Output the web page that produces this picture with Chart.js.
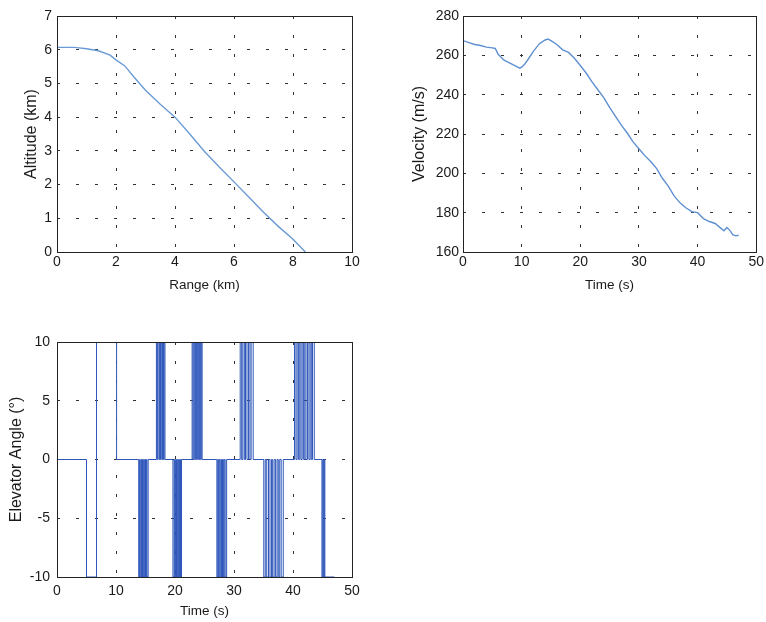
<!DOCTYPE html>
<html>
<head>
<meta charset="utf-8">
<script src="https://cdn.jsdelivr.net/npm/chart.js@4/dist/chart.umd.min.js"></script>
<style>
  body { margin: 0; background: #fff; }
  canvas { position: absolute; }
</style>
</head>
<body>
<canvas id="altChart" width="380" height="300" style="left:0;top:0"></canvas>
<canvas id="velChart" width="386" height="300" style="left:380px;top:0"></canvas>
<canvas id="elevChart" width="380" height="312" style="left:0;top:310px"></canvas>
<script>
// altitude vs range (km)
const rangeKm = [0, 0.6, 1.0, 1.4, 1.8, 2.0, 2.3, 2.6, 3.0, 3.5, 4.0, 4.5, 5.0, 5.5, 6.0, 6.5, 7.0, 7.5, 8.0, 8.42];
const altitudeKm = [6.07, 6.07, 6.03, 5.97, 5.84, 5.7, 5.52, 5.2, 4.8, 4.38, 4.0, 3.5, 2.98, 2.52, 2.08, 1.63, 1.18, 0.76, 0.38, 0.0];

// velocity vs time
const velTime = [0, 1, 2, 3, 4, 5, 5.5, 6, 7, 8, 9, 9.7, 10, 10.5, 11, 12, 13, 14, 14.5, 15, 16, 17, 18, 19, 20,
  21, 22, 23, 24, 25, 26, 27, 28, 29, 30, 31, 32, 33, 34, 35, 36, 37, 38, 39, 40, 41, 42, 43, 44, 44.5, 45, 45.5, 46, 46.5, 47];
const velocity = [267.5, 266.5, 265.5, 265, 264.2, 263.8, 263.5, 260.5, 257.5, 256, 254.5, 253.5, 254, 255.5, 257.5, 262, 265.8, 267.8, 268.3, 267.5, 265.5, 262.8, 261.5, 258.5, 254.8,
  251, 246.5, 242.5, 238.5, 233.5, 229, 224.5, 220.5, 216, 212.5, 209, 206, 202.5, 197.5, 193.5, 188.5, 185, 182.5, 180.5, 180, 177, 175.5, 174.5, 172, 170.8, 172.5, 171, 168.8, 168.2, 168.5];

// elevator command: switch time (s) and the new angle (deg) from that time on
const elevTime = [0, 5.0, 6.15, 6.7, 9.8, 10.1,
  13.85, 14.0, 14.1, 14.25, 14.35, 14.5, 14.55, 14.7, 14.8, 14.95, 15.0, 15.15, 15.25, 15.45,
  16.85, 17.0, 17.1, 17.3, 17.4, 17.55, 17.65, 17.8, 17.9, 18.05, 18.15, 18.3,
  19.65, 19.85, 19.95, 20.1, 20.25, 20.4, 20.55, 20.65, 20.75, 20.9, 20.95, 21.1,
  22.9, 23.05, 23.2, 23.35, 23.45, 23.6, 23.7, 23.85, 23.95, 24.1, 24.2, 24.35, 24.45, 24.6,
  27.1, 27.25, 27.35, 27.5, 27.65, 27.8, 27.9, 28.05, 28.2, 28.35, 28.5, 28.75,
  31.05, 31.3, 31.5, 31.75, 31.95, 32.2, 32.45, 32.7, 32.9, 33.25,
  35.05, 35.3, 35.55, 35.85, 36.1, 36.35, 36.55, 36.8, 37.05, 37.3, 37.5, 37.75, 38.0, 38.35,
  40.25, 40.5, 40.7, 40.95, 41.15, 41.35, 41.55, 41.8, 42.0, 42.2, 42.45, 42.7, 42.9, 43.1, 43.3, 43.6,
  44.9, 45.05, 45.15, 45.3, 45.4, 47.0];
const elevAngle = [0, -10, -10, 10, 10, 0,
  -10, 0, -10, 0, -10, 0, -10, 0, -10, 0, -10, 0, -10, 0,
  10, 0, 10, 0, 10, 0, 10, 0, 10, 0, 10, 0,
  -10, 0, -10, 0, -10, 0, -10, 0, -10, 0, -10, 0,
  10, 0, 10, 0, 10, 0, 10, 0, 10, 0, 10, 0, 10, 0,
  -10, 0, -10, 0, -10, 0, -10, 0, -10, 0, -10, 0,
  10, 0, 10, 0, 10, 0, 10, 0, 10, 0,
  -10, 0, -10, 0, -10, 0, -10, 0, -10, 0, -10, 0, -10, 0,
  10, 0, 10, 0, 10, 0, 10, 0, 10, 0, 10, 0, 10, 0, 10, 0,
  -10, 0, -10, 0, -10, -10];

const FONT = 'Liberation Sans, Arial, sans-serif';
const TXT = '#1a1a1a';

// MATLAB style box round the plot area
const boxPlugin = {
  id: 'box',
  afterDraw(chart) {
    const a = chart.chartArea;
    const ctx = chart.ctx;
    ctx.save();
    ctx.strokeStyle = '#222';
    ctx.lineWidth = 1;
    ctx.strokeRect(Math.round(a.left) + 0.5, Math.round(a.top) + 0.5, Math.round(a.right - a.left), Math.round(a.bottom - a.top));
    ctx.restore();
  }
};

function toPoints(xs, ys) {
  return xs.map((x, i) => ({ x: x, y: ys[i] }));
}

function axis(min, max, step, title, o) {
  const horiz = o.pos === 'bottom';
  return {
    type: 'linear',
    position: o.pos,
    min: min,
    max: max,
    ticks: { stepSize: step, color: TXT, padding: o.tickPad, font: { family: FONT, size: 14 } },
    grid: { color: '#333', lineWidth: 1, drawTicks: false },
    border: { display: false, dash: [3, 16] },
    title: {
      display: true, text: title, color: TXT,
      font: { family: FONT, size: horiz ? 13.5 : 16 },
      padding: horiz ? { top: 0, bottom: o.titlePad } : { top: o.titlePad, bottom: 0 }
    },
    afterFit(scale) {
      if (horiz) scale.height = o.size; else scale.width = o.size;
    }
  };
}

function makeChart(id, pts, color, width, stepped, pad, xs, ys) {
  return new Chart(document.getElementById(id), {
    type: 'line',
    data: {
      datasets: [{
        data: pts,
        borderColor: color,
        borderWidth: width,
        pointRadius: 0,
        stepped: stepped,
        fill: false
      }]
    },
    options: {
      responsive: false,
      animation: false,
      layout: { autoPadding: false, padding: pad },
      plugins: { legend: { display: false }, tooltip: { enabled: false } },
      scales: { x: xs, y: ys }
    },
    plugins: [boxPlugin]
  });
}

makeChart('altChart', toPoints(rangeKm, altitudeKm), '#6b9bd6', 1.4, false,
  { top: 16, right: 28, left: 0, bottom: 0 },
  axis(0, 10, 2, 'Range (km)', { pos: 'bottom', size: 48, tickPad: 2, titlePad: 7 }),
  axis(0, 7, 1, 'Altitude (km)', { pos: 'left', size: 57, tickPad: 5, titlePad: 22 }));

makeChart('velChart', toPoints(velTime, velocity), '#5f90d2', 1.4, false,
  { top: 16, right: 8, left: 0, bottom: 0 },
  axis(0, 50, 10, 'Time (s)', { pos: 'bottom', size: 48, tickPad: 2, titlePad: 7 }),
  axis(160, 280, 20, 'Velocity (m/s)', { pos: 'left', size: 83, tickPad: 4, titlePad: 30 }));

makeChart('elevChart', toPoints(elevTime, elevAngle), '#2d55ba', 1, 'before',
  { top: 32, right: 28, left: 0, bottom: 0 },
  axis(0, 50, 10, 'Time (s)', { pos: 'bottom', size: 45, tickPad: 6, titlePad: 3 }),
  axis(-10, 10, 5, 'Elevator Angle (\u00b0)', { pos: 'left', size: 57, tickPad: 7, titlePad: 7 }));
</script>
</body>
</html>
